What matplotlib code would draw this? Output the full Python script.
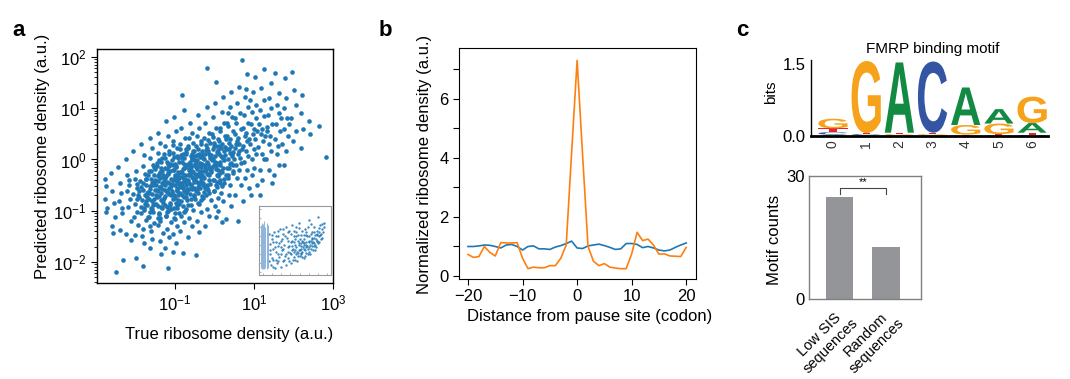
import numpy as np
import matplotlib
matplotlib.use('Agg')
import matplotlib.pyplot as plt
from matplotlib.textpath import TextPath
from matplotlib.font_manager import FontProperties
from matplotlib.patches import PathPatch
from matplotlib.transforms import Affine2D
import matplotlib.ticker as mticker

plt.rcParams['font.family'] = ['Liberation Sans', 'DejaVu Sans']
plt.rcParams['mathtext.default'] = 'regular'

# ---- panel a: log10(true), log10(predicted) ----
pts_left = [(-2.76,-0.38),(-2.74,-0.52),(-2.78,-0.78),(-2.73,-0.95),(-2.75,-1.02),
    (-2.62,-0.27),(-2.58,-0.62),(-2.55,-0.85),(-2.6,-1.3),(-2.56,-1.43),(-2.48,-2.2),(-2.52,-1.12),
    (-2.44,-0.15),(-2.40,-0.45),(-2.36,-0.66),(-2.42,-0.82),(-2.33,-1.05),(-2.38,-1.38),(-2.31,-1.97),(-2.35,-0.95),
    (-2.24,0.0),(-2.2,-0.3),(-2.16,-0.5),(-2.22,-0.62),(-2.13,-0.78),(-2.18,-0.92),(-2.12,-1.2),(-2.25,-1.45),(-2.1,-1.58),(-2.17,-0.4),
    (-2.05,0.16),(-1.98,-0.22),(-2.02,-0.38),(-1.95,-0.55),(-2.07,-0.68),(-1.92,-0.74),(-2.0,-0.86),(-1.96,-1.02),(-2.04,-1.12),
    (-1.93,-1.28),(-2.01,-1.48),(-1.99,-1.92),(-1.97,-0.48),
    (-1.85,0.3),(-1.78,0.08),(-1.82,-0.12),(-1.75,-0.28),(-1.88,-0.42),(-1.72,-0.5),(-1.8,-0.6),(-1.76,-0.7),(-1.84,-0.8),
    (-1.71,-0.88),(-1.79,-0.98),(-1.86,-1.05),(-1.73,-1.18),(-1.81,-1.35),(-1.77,-1.62),(-1.81,-2.08),(-1.74,-0.38),
    (-1.87,-0.92),(-1.7,-0.66),(-1.83,-1.5)]
pts_mid_left = [(-1.64,0.42),(-1.58,0.22),(-1.62,0.02),(-1.55,-0.1),(-1.66,-0.22),(-1.52,-0.3),(-1.6,-0.38),(-1.57,-0.46),
    (-1.63,-0.52),(-1.51,-0.6),(-1.59,-0.68),(-1.65,-0.78),(-1.54,-0.86),(-1.61,-0.95),(-1.56,-1.02),(-1.68,-1.12),
    (-1.53,-1.24),(-1.6,-1.4),(-1.57,-1.56),(-1.62,-1.72),(-1.5,-0.18),(-1.67,-0.64),(-1.52,-0.44),(-1.58,-0.82),(-1.64,-1.3),
    (-1.44,0.52),(-1.38,0.32),(-1.42,0.12),(-1.35,-0.04),(-1.46,-0.12),(-1.32,-0.22),(-1.4,-0.28),(-1.37,-0.36),(-1.43,-0.42),
    (-1.31,-0.48),(-1.39,-0.54),(-1.45,-0.6),(-1.34,-0.66),(-1.41,-0.72),(-1.36,-0.8),(-1.48,-0.86),(-1.33,-0.94),(-1.4,-1.04),
    (-1.37,-1.14),(-1.42,-1.28),(-1.3,-1.44),(-1.39,-1.6),(-1.35,-1.84),(-1.47,-0.5),(-1.31,-0.34),(-1.44,-0.9),(-1.36,-0.16),
    (-1.41,-0.02),(-1.33,-0.58),(-1.46,-0.74),(-1.38,-1.2),
    (-1.22,0.76),(-1.18,0.46),(-1.24,0.26),(-1.15,0.1),(-1.26,0.02),(-1.12,-0.08),(-1.2,-0.18),(-1.17,-0.26),(-1.23,-0.32),
    (-1.11,-0.38),(-1.19,-0.44),(-1.25,-0.5),(-1.14,-0.56),(-1.21,-0.62),(-1.16,-0.68),(-1.28,-0.76),(-1.13,-0.84),(-1.2,-0.92),
    (-1.17,-1.0),(-1.22,-1.1),(-1.1,-1.22),(-1.19,-1.36),(-1.15,-1.52),(-1.24,-1.72),(-1.18,-2.12),(-1.27,-0.42),(-1.12,-0.22),
    (-1.26,-0.6),(-1.14,-0.12),(-1.21,-0.04),(-1.1,-0.7),(-1.25,-0.88),(-1.16,-0.46),(-1.29,-0.3),(-1.11,-0.96)]
pts_core = [(-1.02,0.82),(-0.98,0.56),(-1.04,0.36),(-0.95,0.22),(-1.06,0.12),(-0.92,0.02),(-1.0,-0.08),(-0.97,-0.14),
    (-1.03,-0.2),(-0.91,-0.28),(-0.99,-0.34),(-1.05,-0.4),(-0.94,-0.44),(-1.01,-0.5),(-0.96,-0.56),(-1.08,-0.62),(-0.93,-0.7),
    (-1.0,-0.76),(-0.97,-0.84),(-1.02,-0.94),(-0.9,-1.04),(-0.99,-1.16),(-0.95,-1.3),(-1.04,-1.46),(-0.98,-1.62),(-1.06,-1.8),
    (-0.92,-0.24),(-1.07,-0.66),(-0.94,-0.6),(-1.01,-0.3),(-0.9,-0.48),(-1.05,-0.1),(-0.96,-0.88),(-1.09,-0.52),(-0.93,-0.38),
    (-1.03,0.04),(-0.91,-0.8),
    (-0.82,1.26),(-0.78,0.96),(-0.84,0.62),(-0.75,0.42),(-0.86,0.3),(-0.72,0.2),(-0.8,0.1),(-0.77,0.02),(-0.83,-0.04),
    (-0.71,-0.1),(-0.79,-0.18),(-0.85,-0.24),(-0.74,-0.3),(-0.81,-0.34),(-0.76,-0.4),(-0.88,-0.46),(-0.73,-0.5),(-0.8,-0.56),
    (-0.77,-0.62),(-0.82,-0.7),(-0.7,-0.8),(-0.79,-0.9),(-0.75,-1.0),(-0.84,-1.1),(-0.78,-1.22),(-0.86,-1.4),(-0.8,-1.82),
    (-0.72,-0.14),(-0.87,-0.66),(-0.74,-0.44),(-0.81,-0.26),(-0.7,-0.58),(-0.85,0.08),(-0.76,-0.08),(-0.89,-0.36),(-0.73,-0.74),
    (-0.83,-0.52),(-0.71,0.14),
    (-0.62,0.72),(-0.58,0.52),(-0.64,0.42),(-0.55,0.32),(-0.66,0.22),(-0.52,0.16),(-0.6,0.06),(-0.57,0.0),(-0.63,-0.04),
    (-0.51,-0.1),(-0.59,-0.14),(-0.65,-0.2),(-0.54,-0.24),(-0.61,-0.3),(-0.56,-0.34),(-0.68,-0.4),(-0.53,-0.44),(-0.6,-0.5),
    (-0.57,-0.58),(-0.62,-0.68),(-0.5,-0.78),(-0.59,-0.88),(-0.55,-0.98),(-0.64,-1.14),(-0.58,-1.3),(-0.66,-1.52),(-0.52,-0.56),
    (-0.67,-0.08),(-0.54,-0.36),(-0.61,-0.16),(-0.5,-0.28),(-0.65,-0.46),(-0.56,0.1),(-0.69,-0.62),(-0.53,-0.72),(-0.63,-0.26),
    (-0.51,-0.02),
    (-0.42,0.86),(-0.38,0.62),(-0.44,0.46),(-0.35,0.36),(-0.46,0.26),(-0.32,0.16),(-0.4,0.1),(-0.37,0.04),(-0.43,-0.02),
    (-0.31,-0.08),(-0.39,-0.12),(-0.45,-0.18),(-0.34,-0.22),(-0.41,-0.28),(-0.36,-0.32),(-0.48,-0.38),(-0.33,-0.42),(-0.4,-0.48),
    (-0.37,-0.56),(-0.42,-0.66),(-0.3,-0.76),(-0.39,-0.86),(-0.35,-1.02),(-0.44,-1.2),(-0.38,-1.42),(-0.46,-1.86),(-0.32,-0.3),
    (-0.47,-0.06),(-0.34,-0.14),(-0.41,0.2),(-0.3,-0.5),(-0.45,-0.6),(-0.36,-0.24),(-0.49,0.06),(-0.33,-0.36),(-0.43,-0.44),
    (-0.31,0.08),
    (-0.19,1.79),(-0.18,1.02),(-0.24,0.72),(-0.15,0.52),(-0.26,0.42),(-0.12,0.32),(-0.2,0.22),(-0.17,0.16),(-0.23,0.1),
    (-0.11,0.02),(-0.19,-0.04),(-0.25,-0.1),(-0.14,-0.14),(-0.21,-0.2),(-0.16,-0.28),(-0.28,-0.34),(-0.13,-0.4),(-0.2,-0.5),
    (-0.17,-0.6),(-0.22,-0.7),(-0.1,-0.8),(-0.19,-0.96),(-0.15,-1.1),(-0.24,-1.3),(-0.27,-0.22),(-0.12,0.06),(-0.26,0.0),
    (-0.14,-0.3),(-0.22,0.28),(-0.11,-0.18),(-0.29,-0.46),(-0.16,0.38),(-0.25,-0.56),(-0.13,-0.66)]
pts_dense = [(-1.05,0.29),(-0.66,0.26),(-0.33,0.3),(-0.02,0.27),(0.27,0.25),(0.58,0.3),
    (-1.15,0.17),(-0.87,0.2),(-0.54,0.16),(-0.21,0.19),(0.07,0.15),(0.36,0.2),(0.63,0.17),
    (-1.27,0.1),(-0.95,0.07),(-0.72,0.11),(-0.44,0.08),(-0.14,0.1),(0.16,0.07),(0.44,0.11),
    (-1.33,0.02),(-1.08,-0.01),(-0.81,0.03),(-0.58,0.0),(-0.29,0.02),(-0.06,-0.01),(0.22,0.03),(0.5,0.0),
    (-1.45,-0.06),(-1.17,-0.09),(-0.9,-0.05),(-0.63,-0.08),(-0.36,-0.06),(-0.17,-0.09),(0.13,-0.05),(0.38,-0.08),
    (-1.52,-0.14),(-1.25,-0.17),(-0.98,-0.13),(-0.76,-0.16),(-0.47,-0.14),(-0.24,-0.17),(0.03,-0.13),(0.31,-0.16),
    (-1.6,-0.22),(-1.38,-0.25),(-1.05,-0.21),(-0.84,-0.24),(-0.58,-0.22),(-0.37,-0.25),(-0.09,-0.21),(0.2,-0.24),(0.46,-0.22),
    (-1.68,-0.3),(-1.44,-0.33),(-1.18,-0.29),(-0.91,-0.32),(-0.66,-0.3),(-0.44,-0.33),(-0.2,-0.29),(0.08,-0.32),(0.35,-0.3),
    (-1.73,-0.38),(-1.5,-0.41),(-1.26,-0.37),(-1.0,-0.4),(-0.74,-0.38),(-0.52,-0.41),(-0.27,-0.37),(-0.04,-0.4),(0.24,-0.38),
    (-1.8,-0.46),(-1.56,-0.49),(-1.33,-0.45),(-1.07,-0.48),(-0.82,-0.46),(-0.59,-0.49),(-0.38,-0.45),(-0.12,-0.48),(0.15,-0.46),
    (-1.86,-0.54),(-1.62,-0.57),(-1.37,-0.53),(-1.13,-0.56),(-0.88,-0.54),(-0.64,-0.57),(-0.42,-0.53),(-0.2,-0.56),(0.07,-0.54),
    (-1.9,-0.62),(-1.66,-0.65),(-1.43,-0.61),(-1.2,-0.64),(-0.95,-0.62),(-0.71,-0.65),(-0.47,-0.61),(-0.26,-0.64),(-0.02,-0.62),
    (-1.94,-0.7),(-1.7,-0.73),(-1.48,-0.69),(-1.24,-0.72),(-1.02,-0.7),(-0.77,-0.73),(-0.53,-0.69),(-0.31,-0.72),
    (-1.97,-0.78),(-1.73,-0.81),(-1.52,-0.77),(-1.29,-0.8),(-1.06,-0.78),(-0.84,-0.81),(-0.6,-0.77),(-0.35,-0.8),
    (-1.76,-0.86),(-1.55,-0.89),(-1.31,-0.85),(-1.12,-0.88),(-0.9,-0.86),(-0.66,-0.89),(-0.42,-0.85),
    (-1.79,-0.94),(-1.58,-0.97),(-1.36,-0.93),(-1.15,-0.96),(-0.94,-0.94),(-0.72,-0.97),
    (-1.62,-1.03),(-1.4,-1.06),(-1.19,-1.02),(-0.99,-1.05),(-0.78,-1.03),
    (-1.66,-1.12),(-1.44,-1.15),(-1.23,-1.11),(-1.02,-1.14)]
pts_right = [(0.04,1.51),(0.02,1.1),(-0.04,0.82),(0.05,0.62),(-0.06,0.5),(0.08,0.4),(0.0,0.32),(0.03,0.26),(-0.03,0.2),
    (0.09,0.12),(0.01,0.06),(-0.05,0.0),(0.06,-0.06),(-0.01,-0.1),(0.04,-0.18),(-0.08,-0.24),(0.07,-0.3),(0.0,-0.4),
    (0.03,-0.5),(-0.02,-0.62),(0.1,-0.76),(0.01,-0.9),(0.05,-1.12),(-0.07,-0.14),(0.08,0.18),(-0.04,0.44),(0.06,-0.44),
    (-0.09,0.08),(0.02,-0.04),(0.09,-0.2),
    (0.22,1.22),(0.18,0.92),(0.24,0.72),(0.15,0.56),(0.26,0.46),(0.12,0.36),(0.2,0.3),(0.17,0.22),(0.23,0.16),(0.11,0.1),
    (0.19,0.04),(0.25,-0.02),(0.14,-0.1),(0.21,-0.16),(0.16,-0.22),(0.28,-0.3),(0.13,-0.4),(0.2,-0.52),(0.17,-0.66),
    (0.22,-0.82),(0.1,-1.0),(0.19,-1.22),(0.27,0.08),(0.12,0.26),(0.25,-0.46),(0.14,0.62),(0.29,0.4),(0.11,-0.28),
    (0.42,1.32),(0.38,1.02),(0.44,0.82),(0.35,0.66),(0.46,0.56),(0.32,0.46),(0.4,0.4),(0.37,0.32),(0.43,0.26),(0.31,0.2),
    (0.39,0.12),(0.45,0.06),(0.34,0.0),(0.41,-0.06),(0.36,-0.16),(0.48,-0.26),(0.33,-0.36),(0.4,-0.5),(0.37,-0.7),
    (0.42,-0.9),(0.3,-1.16),(0.47,0.14),(0.32,0.72),(0.46,-0.1),(0.35,0.9),
    (0.62,1.42),(0.58,1.1),(0.64,0.9),(0.55,0.72),(0.66,0.6),(0.52,0.5),(0.6,0.42),(0.57,0.36),(0.63,0.3),(0.51,0.22),
    (0.59,0.1),(0.65,0.02),(0.54,-0.1),(0.61,-0.2),(0.56,-0.36),(0.68,-0.5),(0.53,-0.7),(0.6,-1.2),(0.69,0.2),(0.52,0.8),
    (0.67,-0.06),(0.55,0.3),
    (0.7,1.94),(0.82,1.66),(0.78,1.22),(0.84,1.02),(0.75,0.86),(0.86,0.72),(0.72,0.62),(0.8,0.52),(0.77,0.46),(0.83,0.36),
    (0.71,0.26),(0.79,0.16),(0.85,0.06),(0.74,-0.04),(0.81,-0.2),(0.76,-0.36),(0.88,-0.56),(0.73,-0.82),(0.87,0.4),(0.8,1.38)]
pts_far_right = [(1.02,1.61),(0.98,1.32),(1.04,1.06),(0.95,0.92),(1.06,0.8),(0.92,0.7),(1.0,0.6),(0.97,0.5),(1.03,0.4),
    (0.91,0.3),(0.99,0.2),(1.05,0.1),(0.94,0.0),(1.01,-0.16),(0.96,-0.3),(1.08,-0.5),(0.93,-0.7),(1.07,0.56),(0.9,1.16),
    (1.25,1.77),(1.18,1.4),(1.24,1.16),(1.15,0.96),(1.26,0.84),(1.12,0.7),(1.2,0.6),(1.17,0.5),(1.23,0.36),(1.11,0.24),
    (1.19,0.1),(1.25,0.0),(1.14,-0.2),(1.21,-0.4),(1.16,-0.7),(1.28,0.46),
    (1.42,1.5),(1.38,1.2),(1.44,1.0),(1.35,0.86),(1.46,0.7),(1.32,0.56),(1.4,0.46),(1.37,0.3),(1.43,0.16),(1.31,0.0),
    (1.39,-0.2),(1.45,-0.46),(1.34,0.64),
    (1.53,1.69),(1.62,1.3),(1.58,1.06),(1.64,0.9),(1.55,0.7),(1.66,0.56),(1.52,0.4),(1.6,0.26),(1.57,0.1),(1.63,-0.1),
    (1.51,-0.3),(1.68,0.8),
    (1.78,1.59),(1.82,1.2),(1.76,1.0),(1.84,0.8),(1.75,0.6),(1.86,0.46),(1.72,0.3),(1.8,0.16),(1.77,-0.1),(1.88,0.7),
    (1.96,1.71),(2.02,1.36),(2.05,1.06),(1.94,0.8),(2.06,0.56),(1.98,0.36),
    (2.19,0.23),(2.22,1.26),(2.18,0.9),(2.25,0.6),(2.38,0.75),(2.42,0.5),(2.65,0.66),(2.82,0.04)]

# inset (full data set, in its own unit box)
inset_stripe_x = [0.03, 0.045, 0.06, 0.075, 0.09, 0.105, 0.12]
inset_stripe_lo = [0.10, 0.08, 0.09, 0.08, 0.10, 0.09, 0.10]
inset_stripe_hi = [0.72, 0.76, 0.74, 0.79, 0.70, 0.75, 0.73]
inset_pts = [(0.14,0.6),(0.15,0.45),(0.16,0.3),(0.17,0.15),(0.18,0.52),(0.19,0.38),(0.2,0.22),(0.21,0.62),(0.22,0.1),
    (0.23,0.48),(0.24,0.33),(0.25,0.18),(0.26,0.56),(0.27,0.42),(0.28,0.26),(0.29,0.66),(0.3,0.12),(0.31,0.5),(0.32,0.36),
    (0.33,0.2),(0.34,0.6),(0.35,0.44),(0.36,0.28),(0.37,0.7),(0.38,0.15),(0.39,0.54),(0.4,0.4),(0.41,0.24),(0.42,0.64),
    (0.43,0.32),(0.44,0.48),(0.45,0.18),(0.46,0.72),(0.47,0.38),(0.48,0.56),(0.49,0.26),(0.5,0.44),(0.51,0.3),(0.52,0.62),
    (0.53,0.2),(0.54,0.5),(0.55,0.36),(0.56,0.76),(0.57,0.28),(0.58,0.46),(0.59,0.58),(0.6,0.34),(0.61,0.4),(0.62,0.25),
    (0.63,0.52),(0.64,0.66),(0.65,0.44),(0.66,0.32),(0.67,0.56),(0.68,0.38),(0.69,0.8),(0.7,0.48),(0.71,0.3),(0.72,0.6),
    (0.73,0.42),(0.74,0.52),(0.75,0.36),(0.76,0.7),(0.77,0.46),(0.78,0.58),(0.79,0.4),(0.8,0.64),(0.81,0.5),(0.82,0.84),
    (0.83,0.56),(0.84,0.48),(0.85,0.72),(0.86,0.6),(0.87,0.66),(0.88,0.54),(0.9,0.7),
    (0.46,0.42),(0.48,0.34),(0.5,0.52),(0.52,0.4),(0.54,0.28),(0.56,0.46),(0.58,0.38),(0.6,0.5),(0.62,0.44),(0.64,0.36),
    (0.66,0.48),(0.68,0.3),(0.7,0.56),(0.72,0.38),(0.74,0.46),(0.76,0.54),(0.78,0.44),(0.8,0.58),(0.62,0.58),(0.66,0.62),
    (0.7,0.4),(0.58,0.3),(0.54,0.58),(0.5,0.36),(0.74,0.62),(0.8,0.5),(0.84,0.62),(0.6,0.26),(0.44,0.3),(0.4,0.5),
    (0.36,0.56),(0.3,0.4),(0.26,0.3),(0.22,0.4),(0.18,0.25),
    (0.47,0.22),(0.49,0.48),(0.51,0.56),(0.53,0.34),(0.55,0.44),(0.57,0.52),(0.59,0.32),(0.61,0.48),(0.63,0.38),(0.65,0.58),
    (0.67,0.42),(0.69,0.5),(0.71,0.44),(0.73,0.54),(0.75,0.48),(0.77,0.62),(0.79,0.52),(0.81,0.6),(0.83,0.68),(0.85,0.58),
    (0.87,0.74),(0.89,0.62),(0.91,0.76),(0.68,0.7),(0.72,0.74),(0.6,0.64),(0.56,0.68),(0.52,0.7),(0.48,0.64),(0.44,0.6),
    (0.42,0.42),(0.38,0.3),(0.34,0.38),(0.32,0.52),(0.28,0.46),(0.24,0.56),(0.2,0.48),(0.16,0.36),(0.14,0.2),(0.2,0.12),
    (0.27,0.2),(0.35,0.22),(0.42,0.2),(0.5,0.22),(0.57,0.36),(0.63,0.46),(0.7,0.34),(0.76,0.42),(0.82,0.46),(0.86,0.52),
    (0.64,0.28),(0.72,0.5),(0.78,0.36),(0.66,0.4),(0.58,0.42),(0.54,0.32),(0.46,0.5),(0.4,0.34),(0.3,0.3),(0.24,0.22),
    (0.18,0.58),(0.26,0.64),(0.34,0.66),(0.4,0.62),(0.46,0.36)]

# ---- panel b ----
codon = list(range(-20, 21))
density_all = [1.0, 1.0, 1.02, 1.05, 1.04, 1.0, 0.95, 1.05, 1.07, 1.0, 0.88, 1.0, 1.02, 0.92, 0.92, 0.9, 0.98, 1.03,
               1.1, 1.18, 0.95, 0.93, 1.02, 1.05, 1.08, 1.03, 0.97, 0.9, 0.92, 1.1, 1.1, 1.07, 0.96, 1.0, 0.95, 0.88,
               0.85, 0.88, 0.97, 1.05, 1.12]
density_pause = [0.73, 0.63, 0.66, 1.0, 0.8, 0.68, 1.13, 1.12, 1.12, 1.13, 0.6, 0.25, 0.3, 0.28, 0.28, 0.35, 0.35, 0.6,
                 1.05, 4.2, 7.3, 4.1, 1.0, 0.5, 0.35, 0.42, 0.3, 0.27, 0.25, 0.25, 0.75, 1.48, 1.2, 1.25, 1.05, 0.74,
                 0.75, 0.68, 0.67, 0.66, 0.97]

# ---- panel c ----
logo_pos = [0, 1, 2, 3, 4, 5, 6]
bits_A = [0.03, 0.02, 1.46, 0.01, 0.78, 0.30, 0.20]
bits_C = [0.05, 0.02, 0.01, 1.48, 0.01, 0.01, 0.02]
bits_G = [0.20, 1.50, 0.03, 0.03, 0.20, 0.22, 0.55]
bits_T = [0.08, 0.02, 0.03, 0.03, 0.02, 0.03, 0.05]
letter_colors = {'A': '#138a43', 'C': '#3455a4', 'G': '#f7a21b', 'T': '#e4252d'}

groups = ['Low SIS\nsequences', 'Random\nsequences']
motif_counts = [25, 12.7]

blue = '#1f77b4'
orange = '#ff7f0e'

fig = plt.figure(figsize=(10.7, 3.79), dpi=100)

# ======== a ========
ax = fig.add_axes([0.0907, 0.2533, 0.2206, 0.6174])
pts = pts_left + pts_mid_left + pts_core + pts_dense + pts_right + pts_far_right
lx = np.array([p[0] for p in pts])
ly = np.array([p[1] for p in pts])
ax.scatter(10**lx, 10**ly, s=11, color=blue, linewidths=0)
ax.set_xscale('log')
ax.set_yscale('log')
ax.set_xlim(10**-2.97, 10**3.0)
ax.set_ylim(10**-2.41, 10**2.155)
ax.set_xticks([1e-1, 1e1, 1e3])
ax.xaxis.set_minor_locator(mticker.NullLocator())
ax.set_yticks([1e-2, 1e-1, 1e0, 1e1, 1e2])
ax.yaxis.set_minor_locator(mticker.LogLocator(base=10, subs=np.arange(2, 10), numticks=20))
ax.yaxis.set_minor_formatter(mticker.NullFormatter())
ax.tick_params(labelsize=12, length=4, width=0.8)
ax.tick_params(which='minor', length=2, width=0.6)
for s in ax.spines.values():
    s.set_linewidth(1.0)
ax.set_xlabel('True ribosome density (a.u.)', fontsize=12)
ax.set_ylabel('Predicted ribosome density (a.u.)', fontsize=12)
ax.xaxis.set_label_coords(0.56, -0.19)
ax.yaxis.set_label_coords(-0.2, 0.54)

axi = fig.add_axes([0.242, 0.2744, 0.0673, 0.182])
axi.vlines(inset_stripe_x, inset_stripe_lo, inset_stripe_hi, color='#8fb4da', lw=0.7)
ix = [p[0] for p in inset_pts]
iy = [p[1] for p in inset_pts]
axi.scatter(ix, iy, s=3, color=blue, linewidths=0, alpha=0.85)
axi.set_xlim(0, 1)
axi.set_ylim(0, 1)
axi.set_xticks(np.linspace(0.05, 0.95, 8))
axi.set_yticks(np.linspace(0.05, 0.95, 8))
axi.tick_params(length=1.2, width=0.4, labelbottom=False, labelleft=False, direction='in', colors='#777777')
for s in axi.spines.values():
    s.set_color('#999999')
    s.set_linewidth(0.8)

# ======== b ========
bx = fig.add_axes([0.429, 0.2639, 0.2215, 0.6095])
bx.plot(codon, density_all, color=blue, lw=1.2)
bx.plot(codon, density_pause, color=orange, lw=1.2)
bx.set_xlim(-21.65, 21.8)
bx.set_ylim(-0.1, 7.72)
bx.set_xticks([-20, -10, 0, 10, 20])
bx.set_yticks(range(0, 8))
bx.set_yticklabels(['0', '', '2', '', '4', '', '6', ''])
bx.tick_params(labelsize=12, length=4, width=0.8)
bx.set_xlabel('Distance from pause site (codon)', fontsize=12)
bx.set_ylabel('Normalized ribosome density (a.u.)', fontsize=12)
bx.xaxis.set_label_coords(0.55, -0.13)
bx.yaxis.set_label_coords(-0.115, 0.494)

# ======== c: logo ========
lg = fig.add_axes([0.758, 0.641, 0.2215, 0.2005])
fp = FontProperties(family='Liberation Sans', weight='bold')


def draw_letter(axl, ch, xc, y0, h, color, width=0.88):
    tp = TextPath((0, 0), ch, size=1, prop=fp)
    bb = tp.get_extents()
    tr = Affine2D().translate(-bb.x0, -bb.y0).scale(width / bb.width, h / bb.height).translate(xc - width / 2, y0)
    axl.add_patch(PathPatch(tr.transform_path(tp), fc=color, ec='none'))


for i in logo_pos:
    stack = sorted([('A', bits_A[i]), ('C', bits_C[i]), ('G', bits_G[i]), ('T', bits_T[i])], key=lambda t: t[1])
    base = 0.0
    for ch, h in stack:
        draw_letter(lg, ch, i, base, h, letter_colors[ch])
        base += h
lg.set_xlim(-0.66, 6.48)
lg.set_ylim(0, 1.58)
lg.set_yticks([0, 1.5])
lg.set_yticklabels(['0.0', '1.5'])
lg.set_xticks(logo_pos)
lg.set_xticklabels([str(p) for p in logo_pos], rotation=90, fontsize=10, color='#333333')
lg.tick_params(axis='y', labelsize=12, length=0, pad=4)
lg.tick_params(axis='x', length=0, pad=3)
lg.spines['top'].set_visible(False)
lg.spines['right'].set_visible(False)
lg.spines['bottom'].set_linewidth(2.0)
lg.spines['left'].set_linewidth(1.0)
lg.set_ylabel('bits', fontsize=11)
lg.yaxis.set_label_coords(-0.14, 0.57)
lg.text(0.515, 1.06, 'FMRP binding motif', transform=lg.transAxes, ha='center', va='bottom', fontsize=11)

# ======== c: bars ========
cx = fig.add_axes([0.756, 0.2111, 0.1047, 0.3245])
cx.bar([0, 1], motif_counts, width=0.59, color='#939598')
cx.set_xlim(-0.67, 1.76)
cx.set_ylim(0, 30)
cx.set_yticks([0, 30])
cx.set_xticks([0, 1])
cx.set_xticklabels(groups, rotation=45, ha='right', rotation_mode='anchor', multialignment='center', fontsize=10.5)
cx.tick_params(axis='y', labelsize=12, length=0, pad=3)
cx.tick_params(axis='x', length=0, pad=4)
for s in cx.spines.values():
    s.set_color('#808080')
    s.set_linewidth(1.0)
cx.plot([0, 0, 1, 1], [25.6, 27.1, 27.1, 25.6], color='#444444', lw=0.8)
cx.text(0.5, 27.3, '**', ha='center', va='bottom', fontsize=8)
cx.set_ylabel('Motif counts', fontsize=12)
cx.yaxis.set_label_coords(-0.24, 0.48)

# panel letters
fig.text(0.012, 0.905, 'a', fontsize=16, fontweight='bold')
fig.text(0.354, 0.905, 'b', fontsize=16, fontweight='bold')
fig.text(0.688, 0.905, 'c', fontsize=16, fontweight='bold')

fig.savefig('out.png', dpi=100)
